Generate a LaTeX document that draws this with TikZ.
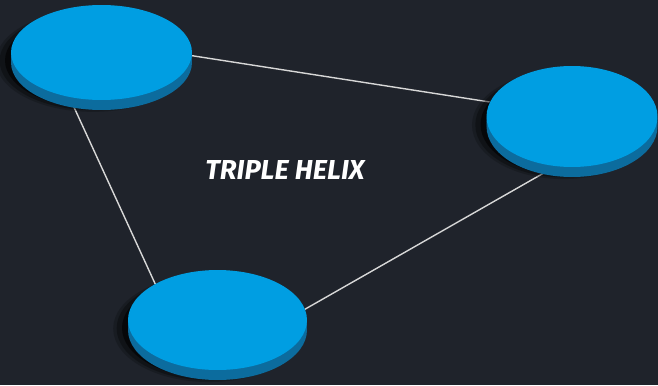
\documentclass[tikz,border=0pt]{standalone}
\usepackage{fontspec}
\newfontfamily\helixfont{Fira Sans}
\definecolor{bgdark}{RGB}{31, 35, 43}
\definecolor{diskblue}{RGB}{0, 158, 226}
\definecolor{diskside}{RGB}{12, 108, 158}
\definecolor{linkgray}{RGB}{215, 215, 215}
\usetikzlibrary{shapes.geometric, shadows, backgrounds}

\begin{document}
\begin{tikzpicture}[x=0.02cm, y=-0.02cm,
  disk/.style={ellipse, fill=diskblue, inner sep=0pt, outer sep=0pt,
    general shadow={fill=black, opacity=.2, shadow scale=1.07, shadow xshift=-0.16cm, shadow yshift=-0.16cm},
    general shadow={fill=black, opacity=.3, shadow scale=1.04, shadow xshift=-0.15cm, shadow yshift=-0.16cm},
    general shadow={fill=black, opacity=.6, shadow xshift=-0.12cm, shadow yshift=-0.16cm},
    general shadow={fill=diskside, shadow yshift=-0.1cm},
    general shadow={fill=diskside, shadow yshift=-0.2cm}},
  link/.style={draw=linkgray, line width=0.8pt}]
  \useasboundingbox (0,0) rectangle (658,385);

  % Disks
  \node[disk, minimum width=3.62cm, minimum height=1.9cm] (diskA) at (101.5, 52.5) {};
  \node[disk, minimum width=3.42cm, minimum height=2.02cm] (diskB) at (572, 116.5) {};
  \node[disk, minimum width=3.58cm, minimum height=2cm] (diskC) at (217.5, 320) {};

  \node[text=white, font=\helixfont\bfseries\itshape\fontsize{15.6}{18}\selectfont] (title) at (285, 170) {TRIPLE HELIX};

  % Links behind the disks
  \begin{pgfonlayer}{background}
    \fill[bgdark] (0,0) rectangle (658,385);
    \draw[link] (diskA.-2) -- (diskB.170);
    \draw[link] (diskA.234.7) -- (diskC.150.2);
    \draw[link] (diskC.7.8) -- (diskB.252.1);
  \end{pgfonlayer}
\end{tikzpicture}
\end{document}
